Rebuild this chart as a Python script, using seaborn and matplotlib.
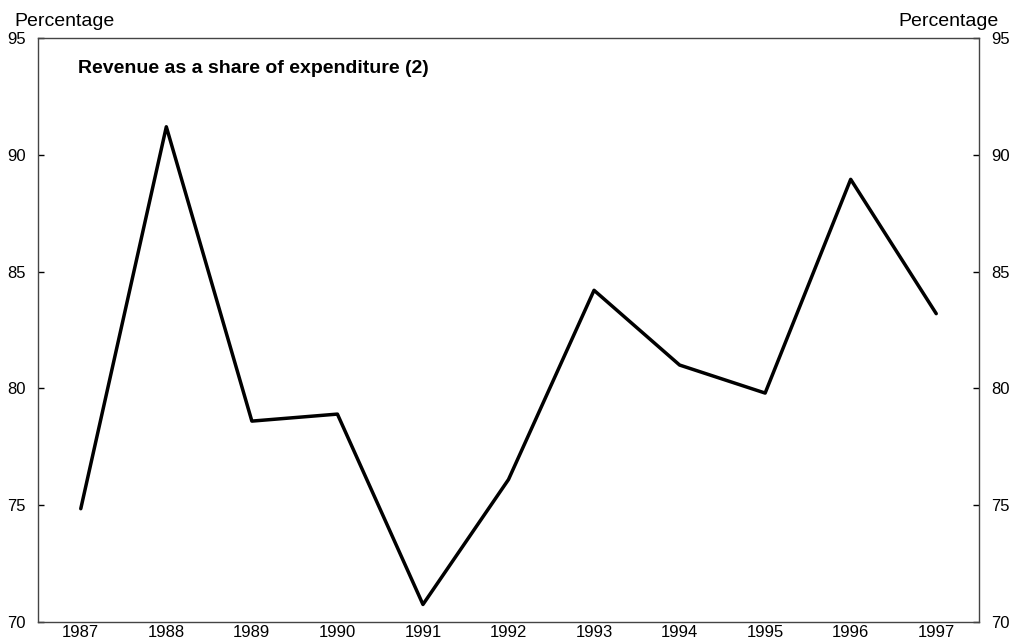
import numpy as np
import pandas as pd
import matplotlib
matplotlib.use('Agg')
import matplotlib.pyplot as plt
import seaborn as sns

years = [1987, 1988, 1989, 1990, 1991, 1992, 1993, 1994, 1995, 1996, 1997]
share = [74.85, 91.2, 78.6, 78.9, 70.75, 76.1, 84.2, 81.0, 79.8, 88.95, 83.2]
yticks = [70, 75, 80, 85, 90, 95]

sns.set_style('white')
plt.rcParams['font.family'] = ['Liberation Sans', 'DejaVu Sans']
plt.rcParams['text.color'] = 'black'
plt.rcParams['xtick.color'] = 'black'
plt.rcParams['ytick.color'] = 'black'

df = pd.DataFrame({'year': years, 'share': share})

fig = plt.figure(figsize=(10.09, 6.42), dpi=100)
ax = fig.add_axes([38 / 1009, 20 / 642, 941 / 1009, 584 / 642])
sns.lineplot(data=df, x='year', y='share', color='black', linewidth=2.5, ax=ax)

ax.set_xlim(1986.5, 1997.5)
ax.set_ylim(70, 95)
ax.set_xticks(years)
ax.set_xticklabels([str(y) for y in years], fontsize=12)
ax.set_xticks(np.array(years[:-1]) + 0.5, minor=True)
ax.tick_params(axis='x', which='major', length=0, pad=2)
ax.tick_params(axis='x', which='minor', direction='in', length=4, width=1, color='black')
ax.set_yticks(yticks)
ax.set_yticklabels([str(v) for v in yticks], fontsize=12)
ax.tick_params(axis='y', which='major', direction='in', length=4, width=1, color='black',
               left=True, right=True, labelleft=True, labelright=True, pad=9)
ax.set_xlabel('')
ax.set_ylabel('')
for s in ax.spines.values():
    s.set_color('#444444')
    s.set_linewidth(1.0)

fig.text(14 / 1009, 1 - 22 / 642, 'Percentage', fontsize=14, ha='left', va='center')
fig.text(999 / 1009, 1 - 22 / 642, 'Percentage', fontsize=14, ha='right', va='center')
ax.text(0.042, 0.948, 'Revenue as a share of expenditure (2)', transform=ax.transAxes,
        fontsize=14, fontweight='bold', ha='left', va='center')

fig.savefig('out.png', dpi=100)
